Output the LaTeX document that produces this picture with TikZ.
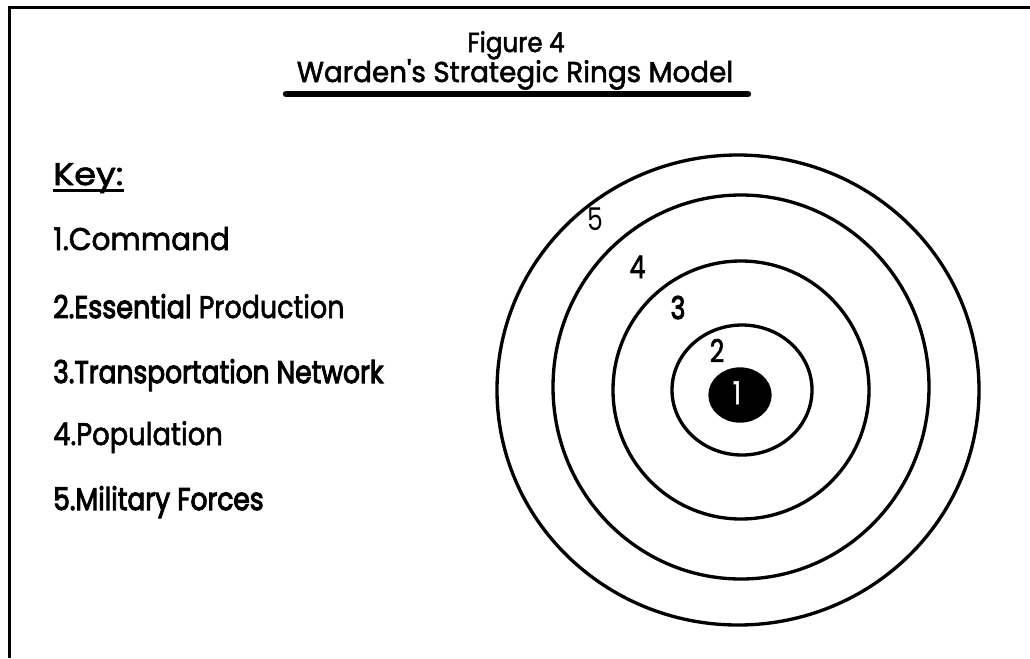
\documentclass[tikz,border=0pt]{standalone}
\usepackage{fontspec}
\newfontfamily\keyfont{Poppins}[FakeBold=2]
\newfontfamily\keybold{Poppins}[FakeBold=3.5]
\newfontfamily\thinfont{Poppins}
\newcommand{\keytext}[2]{\scalebox{#1}[1]{\fontsize{23.5}{26}\keyfont #2}}
\newcommand{\ringtext}[1]{\scalebox{0.8}[1]{\fontsize{23.5}{26}\keyfont #1}}
\begin{document}
\begin{tikzpicture}[x=0.75pt,y=0.75pt,yscale=-1,xscale=1]
\tikzset{ring/.style={line width=2.5}, keyitem/.style={anchor=base west, inner sep=0pt}}
\useasboundingbox (0,0) rectangle (1030,658);

%Frame
\draw [line width=2.2] (9.5,658) -- (9.5,7.5) -- (1030,7.5) ;

% Title
\draw (516,52) node [anchor=base, inner sep=0pt] (fig) {\scalebox{0.9}[1]{\fontsize{20.5}{24}\keyfont Figure 4}};
\draw (515,82) node [anchor=base, inner sep=0pt] (title) {\scalebox{0.97}[1]{\fontsize{21.5}{24}\keyfont Warden's Strategic Rings Model}};
%Straight Lines [bar]
\draw [line width=4.8, line cap=round] (286,94) -- (748,94) ;

% Key
\draw (53,185) node [keyitem] (key) {\keytext{1.12}{Key:}};
\draw [line width=2.5] ([yshift=4pt]key.base west) -- ([yshift=4pt]key.base east) ;
\draw (53,250) node [keyitem] (k1) {\keytext{0.94}{1.Command}};
\draw (53,318) node [keyitem] (k2) {\keytext{0.86}{{\keybold 2.Essential} Production}};
\draw (53,383) node [keyitem] (k3) {\keytext{0.845}{\keybold 3.Transportation Network}};
\draw (53,445) node [keyitem] (k4) {\keytext{0.875}{4.Population}};
\draw (53,510) node [keyitem] (k5) {\keytext{0.845}{\keybold 5.Military Forces}};

%Shape: Rings
\draw [ring] (738,390) ellipse (241 and 235) ;
\draw [ring] (741,387) ellipse (188 and 192) ;
\draw [ring] (741,390) ellipse (128 and 129) ;
\draw [ring] (742,390) ellipse (70 and 65) ;
\draw [ring, fill=black] (740,395) ellipse (30 and 26) ;

% Ring labels
\draw (595,230) node [anchor=base, inner sep=0pt] (r5) {\scalebox{0.8}[1]{\fontsize{23.5}{26}\thinfont 5}};
\draw (637.5,278) node [anchor=base, inner sep=0pt] (r4) {\ringtext{4}};
\draw (678,319) node [anchor=base, inner sep=0pt] (r3) {\ringtext{\keybold 3}};
\draw (717,362) node [anchor=base, inner sep=0pt] (r2) {\ringtext{2}};
\draw (737,404) node [anchor=base, inner sep=0pt, text=white] (r1) {\ringtext{1}};
\end{tikzpicture}
\end{document}
